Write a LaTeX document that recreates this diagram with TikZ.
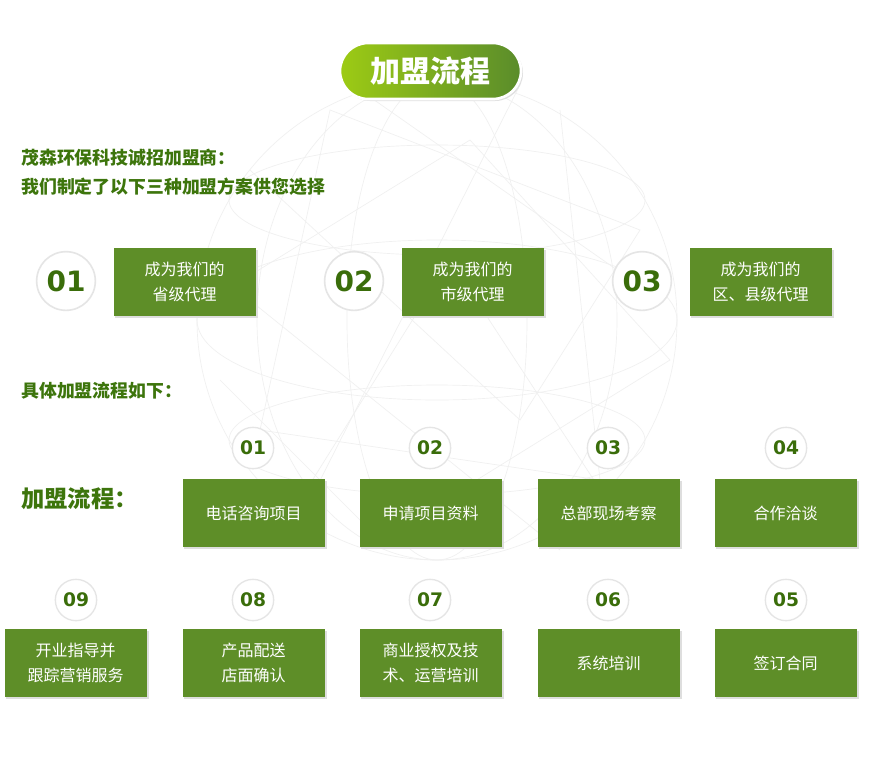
\documentclass[tikz,border=0pt]{standalone}
\usepackage{fontspec}
\setmainfont{Noto Sans CJK SC}
\newfontfamily\numfont{DejaVu Sans}
\usetikzlibrary{shadings}
\definecolor{boxgreen}{HTML}{5E8E28}
\definecolor{txtgreen}{HTML}{3D750C}
\definecolor{numgreen}{HTML}{3A6D0A}
\definecolor{gradL}{HTML}{9DCB14}
\definecolor{gradR}{HTML}{5A8C2B}
\definecolor{globe}{HTML}{F0F0F0}
\tikzset{
  greenbox/.style={fill=boxgreen, minimum width=106.5pt, minimum height=51pt, inner sep=0pt,
     text=white, font=\fontsize{12}{18.75}\selectfont, align=center},
  boxshadow/.style={fill=black!13},
  bigcirc/.style={circle, draw=black!10, line width=1.2pt, fill=white, minimum size=44pt, inner sep=0pt,
     text=numgreen, font=\numfont\bfseries\fontsize{21}{21}\selectfont},
  smallcirc/.style={circle, draw=black!10, line width=1pt, fill=white, minimum size=31pt, inner sep=0pt,
     text=numgreen, font=\numfont\bfseries\fontsize{14}{14}\selectfont},
  heading/.style={anchor=west, text=txtgreen, font=\bfseries\fontsize{13.4}{13.4}\selectfont, inner sep=0pt},
  globeline/.style={draw=globe, line width=0.5pt}
}
\newcommand{\gbox}[4]{% name, x, y, text
  \fill[boxshadow] (#2-69.5,#3-32) rectangle (#2+73.5,#3+36);
  \node[greenbox] (#1) at (#2,#3) {#4};
}
\begin{document}
\begin{tikzpicture}[x=0.75pt,y=-0.75pt]
\useasboundingbox (0,0) rectangle (888,765);
\fill[white] (0,0) rectangle (888,765);
% faint globe
\begin{scope}
\draw[globeline] (437,320) circle (240);
\draw[globeline] (437,320) ellipse (240 and 80);
\draw[globeline] (437,320) ellipse (90 and 240);
\draw[globeline] (437,320) ellipse (180 and 240);
\draw[globeline] (437,200) ellipse (208 and 55);
\draw[globeline] (437,440) ellipse (208 and 55);
\draw[globeline] (250,170) -- (520,420) -- (640,230) -- (330,110) -- (260,430) -- (600,480) -- (560,110);
\draw[globeline] (210,300) -- (470,140) -- (670,360) -- (380,540) -- (220,380);
\draw[globeline] (300,500) -- (450,260) -- (620,520);
\draw[globeline] (360,90) -- (660,300);
\draw[globeline] (200,260) -- (560,550);
\draw[globeline] (520,85) -- (300,520);
\end{scope}
% title pill
\fill[black!12, rounded corners=21pt] (342,45) rectangle (523,101);
\draw[rounded corners=21pt, white, line width=2pt, left color=gradL, right color=gradR]
  (340,43) rectangle (521,99);
\node[text=white, font=\bfseries\fontsize{22.5}{22.5}\selectfont] (title) at (430.5,71) {加盟流程};
% headings
\node[heading] (h1) at (21,158) {茂森环保科技诚招加盟商：};
\node[heading] (h2) at (21,187) {我们制定了以下三种加盟方案供您选择};
\node[heading] (h3) at (21,391) {具体加盟流程如下：};
\node[heading, font=\bfseries\fontsize{17.5}{17.5}\selectfont] (h4) at (21,499) {加盟流程：};
% three plans
\node[bigcirc] (n1) at (66,281) {01};
\node[bigcirc] (n2) at (354,281) {02};
\node[bigcirc] (n3) at (642,281) {03};
\gbox{p1}{184.5}{282}{成为我们的\\省级代理}
\gbox{p2}{472.5}{282}{成为我们的\\市级代理}
\gbox{p3}{760.5}{282}{成为我们的\\区、县级代理}
% process row 1
\node[smallcirc] (c1) at (253,448) {01};
\node[smallcirc] (c2) at (430,448) {02};
\node[smallcirc] (c3) at (608,448) {03};
\node[smallcirc] (c4) at (786,448) {04};
\gbox{s1}{253.5}{513}{电话咨询项目}
\gbox{s2}{430.5}{513}{申请项目资料}
\gbox{s3}{608.5}{513}{总部现场考察}
\gbox{s4}{785.5}{513}{合作洽谈}
% process row 2
\node[smallcirc] (c9) at (76,600) {09};
\node[smallcirc] (c8) at (253,600) {08};
\node[smallcirc] (c7) at (430,600) {07};
\node[smallcirc] (c6) at (608,600) {06};
\node[smallcirc] (c5) at (786,600) {05};
\gbox{s9}{75.5}{663}{开业指导并\\跟踪营销服务}
\gbox{s8}{253.5}{663}{产品配送\\店面确认}
\gbox{s7}{430.5}{663}{商业授权及技\\术、运营培训}
\gbox{s6}{608.5}{663}{系统培训}
\gbox{s5}{785.5}{663}{签订合同}
\end{tikzpicture}
\end{document}
